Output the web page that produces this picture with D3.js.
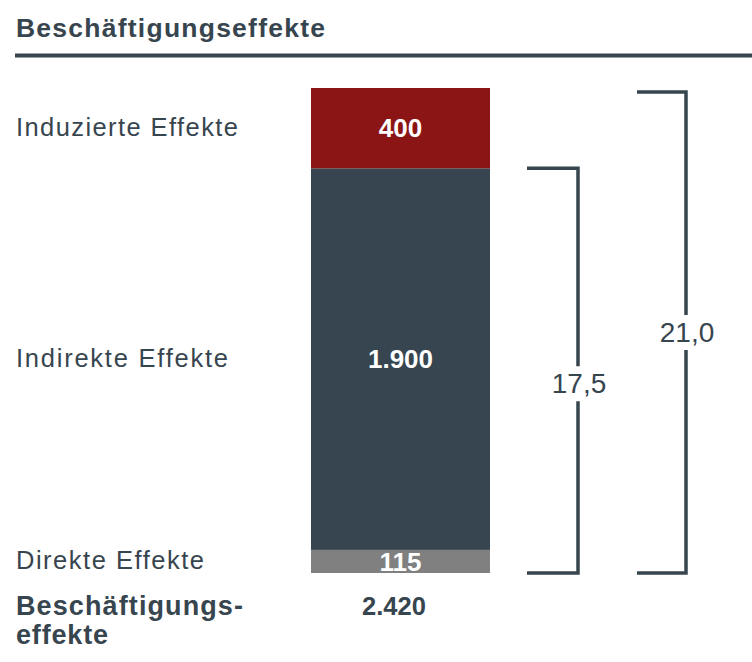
<!DOCTYPE html>
<html>
<head>
<meta charset="utf-8">
<script src="https://cdn.jsdelivr.net/npm/d3@7"></script>
<style>
  html, body { margin: 0; padding: 0; background: #fff; }
  svg { display: block; font-family: "Liberation Sans", Arial, Helvetica, sans-serif; }
</style>
</head>
<body>
<svg id="chart" width="752" height="662"></svg>
<script>
// ---- data ----
const title = "Beschäftigungseffekte";
const categories = ["Direkte Effekte", "Indirekte Effekte", "Induzierte Effekte"];
const values = [115, 1900, 400];
const valueLabels = ["115", "1.900", "400"];
const totalLabelLines = ["Beschäftigungs-", "effekte"];
const totalValueLabel = "2.420";
const bracketLabels = ["17,5", "21,0"];
const bracketSpans = [2, 3]; // number of stacked segments (from bottom) each bracket covers

// ---- style ----
const textColor = "#37454f";
const colors = ["#808080", "#36454f", "#8b1515"];
const labelWidths = { "Induzierte Effekte": 222, "Indirekte Effekte": 212, "Direkte Effekte": 188 };

const svg = d3.select("#chart");

// stack
let acc = 0;
const stacked = values.map((v, i) => {
  const d = { cat: categories[i], value: v, label: valueLabels[i], y0: acc, y1: acc + v, color: colors[i] };
  acc += v;
  return d;
});
const total = acc;

const y = d3.scaleLinear().domain([0, total]).range([573, 88]);
const x = d3.scaleBand().domain(["total"]).range([311, 490]).padding(0);

// title
svg.append("text")
  .attr("x", 16).attr("y", 36.5)
  .attr("fill", textColor)
  .attr("font-weight", "bold")
  .attr("font-size", 26.5)
  .attr("textLength", 309)
  .attr("lengthAdjust", "spacing")
  .text(title);

svg.append("rect")
  .attr("x", 15).attr("y", 53.5)
  .attr("width", 752 - 15).attr("height", 4)
  .attr("fill", textColor);

// bars
svg.selectAll("rect.seg").data(stacked).join("rect")
  .attr("class", "seg")
  .attr("x", x("total"))
  .attr("width", x.bandwidth())
  .attr("y", d => y(d.y1))
  .attr("height", d => y(d.y0) - y(d.y1))
  .attr("fill", d => d.color);

// values inside bars
svg.selectAll("text.val").data(stacked).join("text")
  .attr("class", "val")
  .attr("x", x("total") + x.bandwidth() / 2)
  .attr("y", d => (y(d.y0) + y(d.y1)) / 2)
  .attr("dy", "0.35em")
  .attr("text-anchor", "middle")
  .attr("fill", "#fff")
  .attr("font-weight", "bold")
  .attr("font-size", 26)
  .text(d => d.label);

// category labels
svg.selectAll("text.cat").data(stacked).join("text")
  .attr("class", "cat")
  .attr("x", 16)
  .attr("y", d => (y(d.y0) + y(d.y1)) / 2)
  .attr("dy", "0.3em")
  .attr("fill", textColor)
  .attr("font-size", 25.5)
  .attr("textLength", d => labelWidths[d.cat])
  .attr("lengthAdjust", "spacing")
  .text(d => d.cat);

// total label
const tl = svg.append("text")
  .attr("fill", textColor)
  .attr("font-weight", "bold")
  .attr("font-size", 27);
tl.append("tspan").attr("x", 16).attr("y", 615).attr("textLength", 227).attr("lengthAdjust", "spacing").text(totalLabelLines[0]);
tl.append("tspan").attr("x", 16).attr("y", 644).attr("textLength", 92).attr("lengthAdjust", "spacing").text(totalLabelLines[1]);

svg.append("text")
  .attr("x", 394).attr("y", 615)
  .attr("text-anchor", "middle")
  .attr("fill", textColor)
  .attr("font-weight", "bold")
  .attr("font-size", 25.5)
  .text(totalValueLabel);

// brackets
const bracketGeom = [
  { xl: 527, xr: 578, topOff: 0, labelOff: 13 },
  { xl: 637, xr: 686, topOff: 4, labelOff: 0 }
];
bracketLabels.forEach((lab, i) => {
  const g = bracketGeom[i];
  const top = y(stacked[bracketSpans[i] - 1].y1) + g.topOff;
  const bot = y(0);
  const cy = (top + bot) / 2 + g.labelOff;
  const gap = 17.5;
  const path = d3.path();
  path.moveTo(g.xl, top); path.lineTo(g.xr, top); path.lineTo(g.xr, cy - gap);
  path.moveTo(g.xr, cy + gap); path.lineTo(g.xr, bot); path.lineTo(g.xl, bot);
  svg.append("path")
    .attr("d", path.toString())
    .attr("fill", "none")
    .attr("stroke", textColor)
    .attr("stroke-width", 3.5);
  svg.append("text")
    .attr("x", g.xr + 1).attr("y", cy)
    .attr("dy", "0.35em")
    .attr("text-anchor", "middle")
    .attr("fill", textColor)
    .attr("font-size", 28)
    .text(lab);
});
</script>
</body>
</html>
